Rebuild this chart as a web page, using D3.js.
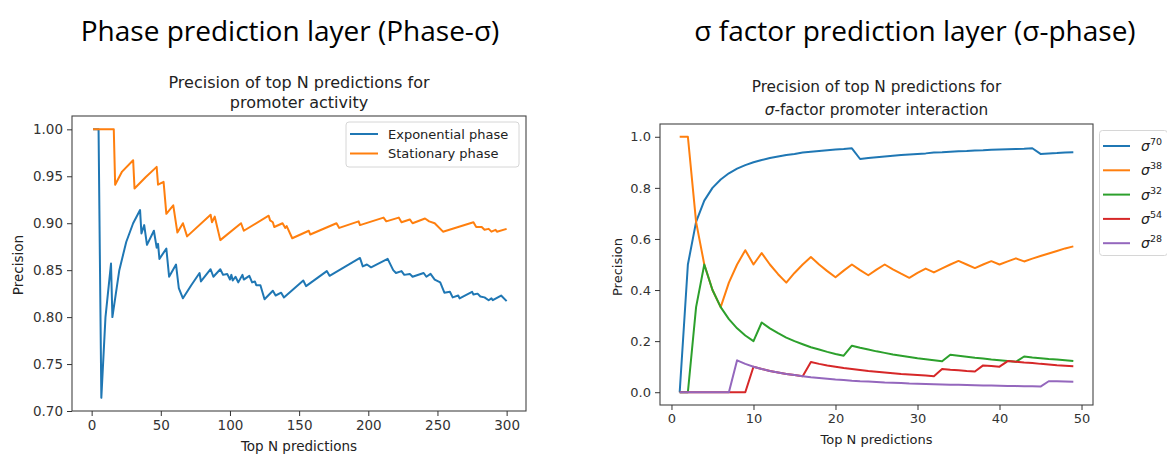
<!DOCTYPE html>
<html><head><meta charset="utf-8">
<script src="https://cdn.jsdelivr.net/npm/d3@7"></script>
<style>body{margin:0;background:#fff}svg{display:block}</style>
</head><body><svg id="c" width="1167" height="455"></svg>
<script>
// ---------- Left chart data (vertices) ----------
const expN = [1,5,7,10,14,15,20,25,30,35,36,38,40,45,47,48,49,54,56,61,63,66,72,78,79,86,88,93,95,98,100,101,102,104,106,109,110,114,116,118,119,122,125,131,133,137,139,153,155,170,172,194,196,199,202,214,218,220,224,226,230,232,240,242,245,248,252,255,259,261,265,266,275,276,279,281,284,287,289,290,296,300];
const expP = [1.0,1.0,0.714,0.80,0.857,0.80,0.85,0.88,0.90,0.914,0.889,0.898,0.877,0.892,0.874,0.878,0.862,0.873,0.843,0.856,0.831,0.820,0.834,0.847,0.838,0.851,0.843,0.851,0.845,0.846,0.840,0.845,0.839,0.843,0.837,0.845,0.840,0.844,0.837,0.838,0.834,0.834,0.819,0.828,0.823,0.826,0.821,0.839,0.833,0.849,0.844,0.863,0.854,0.856,0.853,0.862,0.850,0.847,0.849,0.845,0.846,0.843,0.847,0.843,0.846,0.840,0.837,0.826,0.827,0.821,0.823,0.820,0.827,0.824,0.825,0.822,0.821,0.818,0.820,0.818,0.823,0.817];
const statN = [1,16,17,22,30,31,39,47,48,52,54,59,62,66,69,86,87,89,93,108,110,128,129,131,132,138,140,141,145,157,158,177,179,193,194,211,213,222,224,230,232,241,244,248,254,276,278,282,284,287,289,292,293,300];
const statP = [1.0,1.0,0.941,0.955,0.967,0.937,0.949,0.960,0.941,0.944,0.910,0.919,0.890,0.900,0.886,0.909,0.901,0.907,0.882,0.900,0.892,0.908,0.903,0.901,0.896,0.900,0.895,0.897,0.884,0.892,0.888,0.900,0.895,0.902,0.898,0.906,0.902,0.906,0.901,0.904,0.900,0.905,0.902,0.900,0.891,0.901,0.896,0.896,0.893,0.894,0.891,0.893,0.891,0.894];
const leftSeriesNames = ["Exponential phase","Stationary phase"];
const leftXTicks = [0,50,100,150,200,250,300];
const leftYTicks = [0.70,0.75,0.80,0.85,0.90,0.95,1.00];

// ---------- Right chart data ----------
const sigmaN = [1,2,3,4,5,6,7,8,9,10,11,12,13,14,15,16,17,18,19,20,21,22,23,24,25,26,27,28,29,30,31,32,33,34,35,36,37,38,39,40,41,42,43,44,45,46,47,48,49];
const sig70 = [0,0.5,0.667,0.75,0.8,0.833,0.857,0.875,0.889,0.9,0.909,0.917,0.923,0.929,0.933,0.938,0.941,0.944,0.947,0.95,0.952,0.955,0.913,0.917,0.92,0.923,0.926,0.929,0.931,0.933,0.935,0.938,0.939,0.941,0.943,0.944,0.946,0.947,0.949,0.95,0.951,0.952,0.953,0.955,0.933,0.935,0.936,0.938,0.939];
const sig38 = [1.0,1.0,0.667,0.5,0.4,0.333,0.429,0.5,0.556,0.5,0.545,0.5,0.462,0.429,0.467,0.5,0.529,0.5,0.474,0.45,0.476,0.5,0.478,0.458,0.48,0.5,0.481,0.464,0.448,0.467,0.484,0.469,0.485,0.5,0.514,0.5,0.486,0.5,0.513,0.5,0.512,0.524,0.512,0.523,0.533,0.543,0.553,0.563,0.571];
const sig32 = [0,0,0.333,0.5,0.4,0.333,0.286,0.25,0.222,0.2,0.273,0.25,0.231,0.214,0.2,0.188,0.176,0.167,0.158,0.15,0.143,0.182,0.174,0.167,0.16,0.154,0.148,0.143,0.138,0.133,0.129,0.125,0.121,0.147,0.143,0.139,0.135,0.132,0.128,0.125,0.122,0.119,0.14,0.136,0.133,0.13,0.128,0.125,0.122];
const sig54 = [0,0,0,0,0,0,0,0,0,0.1,0.091,0.083,0.077,0.071,0.067,0.063,0.118,0.111,0.105,0.1,0.095,0.091,0.087,0.083,0.08,0.077,0.074,0.071,0.069,0.067,0.065,0.063,0.091,0.088,0.086,0.083,0.081,0.105,0.103,0.1,0.122,0.119,0.116,0.114,0.111,0.109,0.106,0.104,0.102];
const sig28 = [0,0,0,0,0,0,0,0.125,0.111,0.1,0.091,0.083,0.077,0.071,0.067,0.063,0.059,0.056,0.053,0.05,0.048,0.045,0.043,0.042,0.04,0.038,0.037,0.036,0.034,0.033,0.032,0.031,0.03,0.029,0.029,0.028,0.027,0.026,0.026,0.025,0.024,0.024,0.023,0.023,0.022,0.043,0.043,0.042,0.041];
const sigmaLabels = ["70","38","32","54","28"];
const rightXTicks = [0,10,20,30,40,50];
const rightYTicks = [0.0,0.2,0.4,0.6,0.8,1.0];

const colors = ["#1f77b4","#ff7f0e","#2ca02c","#d62728","#9467bd"];
const FONT = "DejaVu Sans, sans-serif";
const svg = d3.select("#c");

// Headings
const HFONT = "'Open Sans', Lato, sans-serif";
svg.append("text").attr("x",290).attr("y",41).attr("text-anchor","middle")
  .attr("font-family",HFONT).attr("font-size",28).attr("fill","#000")
  .text("Phase prediction layer (Phase-σ)");
svg.append("text").attr("x",915).attr("y",41).attr("text-anchor","middle")
  .attr("font-family",HFONT).attr("font-size",28).attr("fill","#000")
  .text("σ factor prediction layer (σ-phase)");

function drawAxes(g, x, y, box, xt, yt, yfmt, fs){
  const ax = g.append("g").attr("transform",`translate(0,${box.b})`)
    .call(d3.axisBottom(x).tickValues(xt).tickFormat(d3.format("d")).tickSize(5).tickPadding(4));
  const ay = g.append("g").attr("transform",`translate(${box.l},0)`)
    .call(d3.axisLeft(y).tickValues(yt).tickFormat(d3.format(yfmt)).tickSize(5).tickPadding(4));
  [ax,ay].forEach(a=>{
    a.select(".domain").remove();
    a.selectAll("line").attr("stroke","#333").attr("stroke-width",1);
    a.selectAll("text").attr("font-family",FONT).attr("font-size",fs).attr("fill","#333");
  });
}
function frame(g, box){
  g.append("rect").attr("x",box.l).attr("y",box.t).attr("width",box.r-box.l).attr("height",box.b-box.t)
    .attr("fill","none").attr("stroke","#444").attr("stroke-width",1.1);
}

// ---------- Left chart ----------
{
  const box = {l:72, r:526, t:116, b:411};
  const x = d3.scaleLinear().domain([-14.2,314]).range([box.l,box.r]);
  const y = d3.scaleLinear().domain([0.7,1.0142]).range([box.b,box.t]);
  const g = svg.append("g");
  const line = d3.line().x(d=>x(d[0])).y(d=>y(d[1]));
  const series = [d3.zip(expN,expP), d3.zip(statN,statP)];
  series.forEach((s,i)=>{
    g.append("path").attr("d",line(s)).attr("fill","none").attr("stroke",colors[i])
      .attr("stroke-width",2).attr("stroke-linejoin","round");
  });
  frame(g, box);
  drawAxes(g, x, y, box, leftXTicks, leftYTicks, ".2f", 13.5);
  g.append("text").attr("x",(box.l+box.r)/2).attr("y",451).attr("text-anchor","middle")
    .attr("font-family",FONT).attr("font-size",13.5).attr("fill","#222").text("Top N predictions");
  g.append("text").attr("transform",`translate(23,265) rotate(-90)`).attr("text-anchor","middle")
    .attr("font-family",FONT).attr("font-size",13.5).attr("fill","#222").text("Precision");
  const tt = g.append("text").attr("text-anchor","middle").attr("font-family",FONT).attr("font-size",16).attr("fill","#222");
  tt.append("tspan").attr("x",(box.l+box.r)/2).attr("y",88).text("Precision of top N predictions for");
  tt.append("tspan").attr("x",(box.l+box.r)/2).attr("y",108).text("promoter activity");
  // legend
  const lg = g.append("g");
  lg.append("rect").attr("x",346).attr("y",122).attr("width",173).attr("height",45).attr("rx",3)
    .attr("fill","#fff").attr("fill-opacity",0.8).attr("stroke","#d6d6d6");
  leftSeriesNames.forEach((n,i)=>{
    const yy = 134 + i*19.5;
    lg.append("line").attr("x1",350).attr("x2",378).attr("y1",yy).attr("y2",yy).attr("stroke",colors[i]).attr("stroke-width",2);
    lg.append("text").attr("x",388).attr("y",yy+4.5).attr("font-family",FONT).attr("font-size",13).attr("fill","#222").text(n);
  });
}

// ---------- Right chart ----------
{
  const box = {l:660, r:1093, t:124, b:405};
  const x = d3.scaleLinear().domain([-1.4,51.4]).range([box.l,box.r]);
  const y = d3.scaleLinear().domain([-0.05,1.05]).range([box.b,box.t]);
  const g = svg.append("g");
  const line = d3.line().x(d=>x(d[0])).y(d=>y(d[1]));
  const vals = [sig70,sig38,sig32,sig54,sig28];
  vals.forEach((v,i)=>{
    g.append("path").attr("d",line(d3.zip(sigmaN,v))).attr("fill","none").attr("stroke",colors[i])
      .attr("stroke-width",2).attr("stroke-linejoin","round");
  });
  frame(g, box);
  drawAxes(g, x, y, box, rightXTicks, rightYTicks, ".1f", 13);
  g.append("text").attr("x",(box.l+box.r)/2).attr("y",444).attr("text-anchor","middle")
    .attr("font-family",FONT).attr("font-size",13).attr("fill","#222").text("Top N predictions");
  g.append("text").attr("transform",`translate(622,267) rotate(-90)`).attr("text-anchor","middle")
    .attr("font-family",FONT).attr("font-size",13).attr("fill","#222").text("Precision");
  const tt = g.append("text").attr("text-anchor","middle").attr("font-family",FONT).attr("font-size",15.3).attr("fill","#222");
  tt.append("tspan").attr("x",(box.l+box.r)/2).attr("y",92).text("Precision of top N predictions for");
  const t2 = tt.append("tspan").attr("x",(box.l+box.r)/2).attr("y",115);
  t2.append("tspan").attr("font-style","italic").text("σ");
  t2.append("tspan").text("-factor promoter interaction");
  // legend
  const lg = g.append("g");
  lg.append("rect").attr("x",1099.5).attr("y",130.5).attr("width",68).attr("height",125).attr("rx",3)
    .attr("fill","#fff").attr("fill-opacity",0.8).attr("stroke","#d6d6d6");
  sigmaLabels.forEach((n,i)=>{
    const yy = 146 + i*24.3;
    lg.append("line").attr("x1",1103).attr("x2",1130).attr("y1",yy).attr("y2",yy).attr("stroke",colors[i]).attr("stroke-width",2);
    const t = lg.append("text").attr("x",1141).attr("y",yy+5).attr("font-family",FONT).attr("font-size",14).attr("fill","#222");
    t.append("tspan").attr("font-style","italic").text("σ");
    t.append("tspan").attr("dy",-6).attr("font-size",9.5).text(n);
  });
}
</script></body></html>
